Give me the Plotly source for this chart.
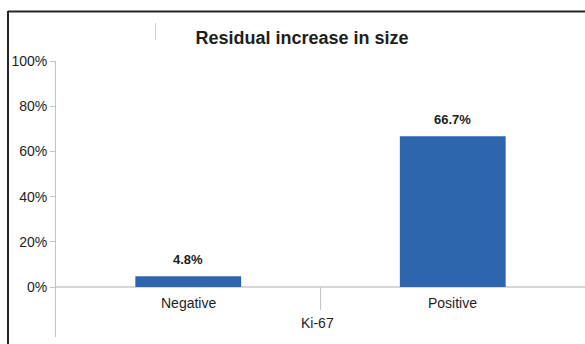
import plotly.graph_objects as go

# Data
categories = ["Negative", "Positive"]
values = [4.8, 66.7]
y_ticks = [0, 20, 40, 60, 80, 100]
y_tick_labels = [f"{t}%" for t in y_ticks]
x_title = "Ki-67"
chart_title = "Residual increase in size"

W, H = 585, 344
ML, MR, MT, MB = 56, 0, 61, 7
Y_MIN, Y_MAX = -22.1, 100

bar_color = "#2d66ac"
axis_gray = "#c4c4c4"
text_color = "#1e1e1e"
font_family = "Liberation Sans, Arial, sans-serif"

fig = go.Figure()
fig.add_trace(go.Bar(
    x=list(range(len(categories))),
    y=values,
    width=0.4,
    marker=dict(color=bar_color, line=dict(width=0)),
    hoverinfo="skip",
))

# value labels above bars
for i, v in enumerate(values):
    fig.add_annotation(
        x=i, y=v, text=f"<b>{v:.1f}%</b>", showarrow=False,
        yanchor="bottom", yshift=7,
        font=dict(family=font_family, size=13, color=text_color),
    )

# category labels below the zero line
for i, c in enumerate(categories):
    fig.add_annotation(
        x=i, y=-7.1, text=c, showarrow=False, yanchor="middle",
        font=dict(family=font_family, size=14, color=text_color),
    )

# axis title
fig.add_annotation(
    x=0.49, y=-15.9, text=x_title, showarrow=False, yanchor="middle",
    font=dict(family=font_family, size=14, color=text_color),
)

# category separator tick
fig.add_shape(type="line", xref="x", yref="y", x0=0.5, x1=0.5, y0=0, y1=-10.2,
              line=dict(color=axis_gray, width=1))

# frame (top and left edges)
def px_x(p):
    return (p - ML) / (W - ML - MR)

def px_y(p):
    return 1 - (p - MT) / (H - MT - MB)

fig.add_shape(type="line", xref="paper", yref="paper",
              x0=px_x(8), x1=px_x(W + 2), y0=px_y(11.5), y1=px_y(11.5),
              line=dict(color="#262626", width=2))
fig.add_shape(type="line", xref="paper", yref="paper",
              x0=px_x(8), x1=px_x(8), y0=px_y(11), y1=px_y(H + 2),
              line=dict(color="#262626", width=2))
fig.add_shape(type="line", xref="paper", yref="paper",
              x0=px_x(155.5), x1=px_x(155.5), y0=px_y(23), y1=px_y(40),
              line=dict(color="#cfcfcf", width=1))

fig.update_layout(
    width=W, height=H,
    margin=dict(l=ML, r=MR, t=MT, b=MB),
    paper_bgcolor="white", plot_bgcolor="white",
    showlegend=False,
    title=dict(
        text=f"<b>{chart_title}</b>",
        xref="container", x=302 / W, xanchor="center",
        yref="container", y=1 - 37.5 / H, yanchor="middle",
        font=dict(family=font_family, size=18, color=text_color),
    ),
    xaxis=dict(
        range=[-0.5, 1.5], showticklabels=False, showgrid=False,
        zeroline=False, showline=False, ticks="", fixedrange=True,
    ),
    yaxis=dict(
        range=[Y_MIN, Y_MAX], tickvals=y_ticks, ticktext=y_tick_labels,
        showgrid=False, zeroline=True, zerolinecolor="#d6d6d6", zerolinewidth=1.5,
        showline=True, linecolor=axis_gray, linewidth=1,
        ticks="outside", ticklen=5, tickcolor=axis_gray,
        tickfont=dict(family=font_family, size=14, color=text_color),
        fixedrange=True,
    ),
)

fig.write_html("out.html")
